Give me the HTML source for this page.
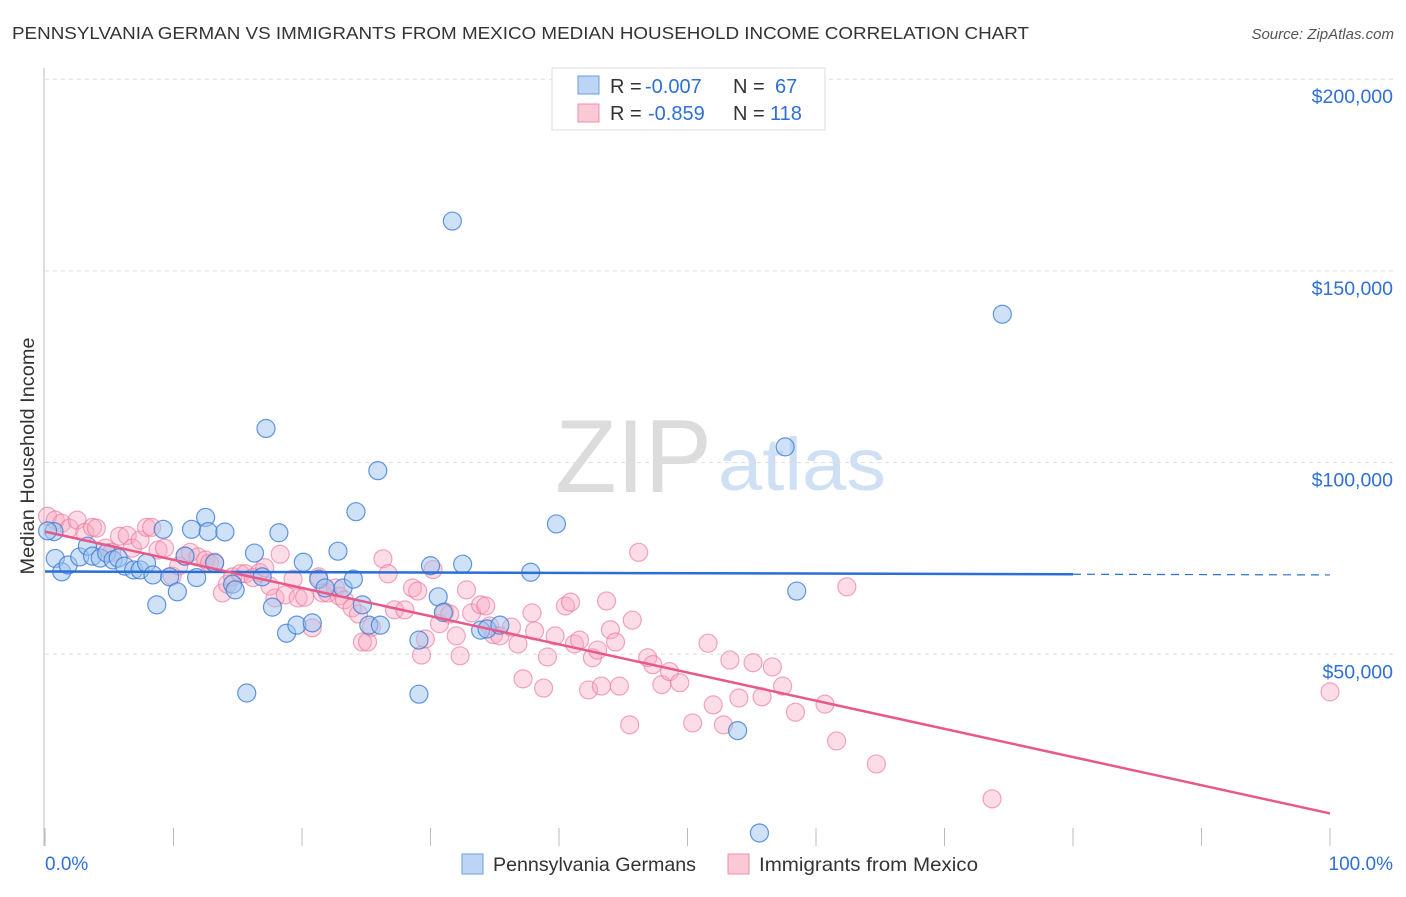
<!DOCTYPE html>
<html><head><meta charset="utf-8"><style>
body{margin:0;background:#fff;font-family:"Liberation Sans",sans-serif;}
svg text{font-family:"Liberation Sans",sans-serif;}
</style></head><body>
<svg id="c" width="1406" height="892">
<text x="12" y="39" font-size="17.5" fill="#333" textLength="1017" lengthAdjust="spacingAndGlyphs">PENNSYLVANIA GERMAN VS IMMIGRANTS FROM MEXICO MEDIAN HOUSEHOLD INCOME CORRELATION CHART</text>
<text x="1394" y="39" font-size="15" fill="#555" font-style="italic" text-anchor="end">Source: ZipAtlas.com</text>
<text x="555" y="492" font-size="104" fill="#dcdcdc" font-family="Liberation Serif" textLength="157" lengthAdjust="spacingAndGlyphs">ZIP</text>
<text x="718" y="490" font-size="74" fill="#d0e0f4" textLength="168" lengthAdjust="spacingAndGlyphs">atlas</text>
<text transform="translate(34,456) rotate(-90)" font-size="19" fill="#333" text-anchor="middle" textLength="237" lengthAdjust="spacingAndGlyphs">Median Household Income</text>
<g id="grid"></g><g id="pts"></g><g id="lines"></g>
<g>
<rect x="552" y="68" width="273" height="62" fill="#fff" stroke="#ddd"/>
<rect x="578" y="76" width="21" height="18" fill="#bcd5f5" stroke="#6a9be0"/>
<rect x="578" y="104" width="21" height="18" fill="#fbc8d6" stroke="#ec8fab"/>
<text x="610" y="93" font-size="20" fill="#333">R =</text><text x="645" y="93" font-size="20" fill="#2f6fd6">-0.007</text>
<text x="733" y="93" font-size="20" fill="#333">N =</text><text x="775" y="93" font-size="20" fill="#2f6fd6">67</text>
<text x="610" y="120" font-size="20" fill="#333">R =</text><text x="648" y="120" font-size="20" fill="#2f6fd6">-0.859</text>
<text x="733" y="120" font-size="20" fill="#333">N =</text><text x="770" y="120" font-size="20" fill="#2f6fd6">118</text>
</g>
<g>
<rect x="462" y="854" width="21" height="20" fill="#bcd5f5" stroke="#6a9be0"/>
<text x="493" y="871" font-size="19.5" fill="#333" textLength="203" lengthAdjust="spacingAndGlyphs">Pennsylvania Germans</text>
<rect x="728" y="854" width="21" height="20" fill="#fbc8d6" stroke="#ec8fab"/>
<text x="759" y="871" font-size="19.5" fill="#333" textLength="219" lengthAdjust="spacingAndGlyphs">Immigrants from Mexico</text>
</g>
<text x="45" y="870" font-size="19" fill="#2f6fd6">0.0%</text>
<text x="1393" y="870" font-size="19" fill="#2f6fd6" text-anchor="end">100.0%</text>
</svg>
<script>
const blueX=[0.7,0.8,1.3,1.8,2.7,3.3,3.7,4.3,4.8,5.3,5.7,6.2,6.9,7.4,7.9,8.4,8.7,9.2,9.7,10.3,10.9,11.4,11.8,12.5,12.7,13.2,14.0,14.6,14.8,15.7,16.3,16.9,17.2,17.7,18.2,18.8,19.6,20.1,20.8,21.3,21.8,22.8,23.2,24.0,24.2,24.7,25.2,25.9,26.1,29.1,29.1,30.0,30.6,31.0,31.7,32.5,33.9,34.4,35.4,37.8,39.8,53.9,55.6,57.6,58.5,74.5,0.2];
const blueY=[82,75,71.5,73.3,75.4,78.2,75.6,75.1,76.4,74.6,75.1,73,72,72,73.8,70.7,62.9,82.6,70.2,66.3,75.6,82.6,70,85.7,82,73.8,81.9,68.3,66.8,39.9,76.4,70.2,108.9,62.3,81.7,55.5,57.6,74,58.2,69.6,67.3,76.9,67.3,69.6,87.2,62.9,57.6,97.9,57.6,53.7,39.6,73.1,65,60.9,163,73.5,56.3,56.6,57.6,71.4,84,30.1,3.4,104.1,66.5,138.7,82.2];
const pinkX=[0.2,0.8,1.3,1.9,2.5,3.1,3.7,4.0,4.7,5.2,5.8,6.4,6.8,7.4,7.9,8.3,8.8,9.3,9.9,10.4,10.9,11.3,11.9,12.5,12.8,13.2,13.8,14.2,14.6,15.2,15.6,16.2,16.7,17.1,17.5,17.9,18.3,18.7,19.3,19.7,20.2,20.8,21.3,21.6,22.0,22.6,22.9,23.3,23.9,24.4,24.7,25.1,25.4,26.3,26.7,27.2,28.0,28.6,29.0,29.3,29.6,30.2,30.7,31.1,31.5,32.0,32.3,32.8,33.2,33.9,34.3,34.6,34.9,35.4,36.3,36.8,37.2,37.9,38.1,38.8,39.1,39.7,40.5,40.9,41.2,41.6,42.3,42.6,43.0,43.3,43.7,44.0,44.4,44.7,45.5,45.7,46.2,46.9,47.3,48.0,48.6,49.4,50.4,51.6,52.0,52.8,53.3,54.0,55.1,55.8,56.6,57.4,58.4,60.7,61.6,62.4,64.7,73.7,100];
const pinkY=[86,85,84.2,82.9,85,81.8,83.1,82.9,77.7,76.6,80.8,81,77.7,79.8,83.1,83.1,77.2,77.7,70.4,73,75.6,76.6,75.4,74.6,73.8,74,66,68.3,70.2,71,71,70,71.3,72.6,67.8,64.7,76.1,65.5,69.6,64.7,64.9,56.9,70.2,66,66,67.3,65.2,64.2,62.1,60.5,53.2,53.2,57.1,74.9,71,61.6,61.6,67.3,66.5,49.8,54,72.1,58,61.1,60.5,54.8,49.6,66.8,60.8,62.9,62.6,57.4,55.1,54.8,57.1,52.7,43.6,60.8,56.1,41.2,49.3,54.8,62.6,63.6,52.7,53.7,40.7,49.1,51.1,41.7,63.9,56.4,53.2,41.7,31.6,58.9,76.6,49.1,47.3,42.1,45.5,42.6,32.1,52.9,36.8,31.6,48.5,38.6,47.8,38.9,46.7,41.7,34.9,37,27.4,67.6,21.4,12.3,40.2,12.8,42.6];
const yTicks=[50000,100000,150000,200000];
const yTickLabels=["$50,000","$100,000","$150,000","$200,000"];
const xTicks=[0,10,20,30,40,50,60,70,80,90,100];
const blueLine=[71.6,70.7];
const pinkLine=[82,8.5];
const X=v=>45+v*12.85, Y=k=>846-k*3.834;
const ns="http://www.w3.org/2000/svg";
function mk(t,a,p){const e=document.createElementNS(ns,t);for(const k in a)e.setAttribute(k,a[k]);p.appendChild(e);return e;}
const grid=document.getElementById('grid'),pts=document.getElementById('pts'),lines=document.getElementById('lines');
yTicks.forEach((t,i)=>{const y=Y(t/1000);
const g=mk('line',{x1:45,x2:1394,y1:y,y2:y,stroke:'#ddd','stroke-dasharray':'4,4'},grid);


const tx=mk('text',{x:1393,y:y+24,'font-size':19.5,fill:'#2f6fd6','text-anchor':'end'},grid);tx.textContent=yTickLabels[i];

});
const ax=mk('line',{x1:44,x2:44,y1:68,y2:846,stroke:'#bbb'},grid);


xTicks.forEach(t=>{const l=mk('line',{x1:X(t),x2:X(t),y1:828,y2:846,stroke:'#bbb'},grid);

});
pinkX.forEach((v,i)=>{const c=mk('circle',{cx:X(v),cy:Y(pinkY[i]),r:9,fill:'rgba(248,170,195,0.4)',stroke:'rgba(236,120,155,0.65)','stroke-width':1.2},pts);

});
blueX.forEach((v,i)=>{const c=mk('circle',{cx:X(v),cy:Y(blueY[i]),r:9,fill:'rgba(160,195,240,0.5)',stroke:'rgba(60,125,215,0.8)','stroke-width':1.2},pts);

});
const bl=v=>blueLine[0]+(blueLine[1]-blueLine[0])*v/100;
const l1=mk('line',{x1:X(0),y1:Y(bl(0)),x2:X(80),y2:Y(bl(80)),stroke:'#2a6fd6','stroke-width':2.5},lines);


const l2=mk('line',{x1:X(80),y1:Y(bl(80)),x2:X(100),y2:Y(bl(100)),stroke:'#2a6fd6','stroke-width':1.2,'stroke-dasharray':'8,6'},lines);


const l3=mk('line',{x1:X(0),y1:Y(pinkLine[0]),x2:X(100),y2:Y(pinkLine[1]),stroke:'#e8598a','stroke-width':2.5},lines);


</script>
</body></html>
